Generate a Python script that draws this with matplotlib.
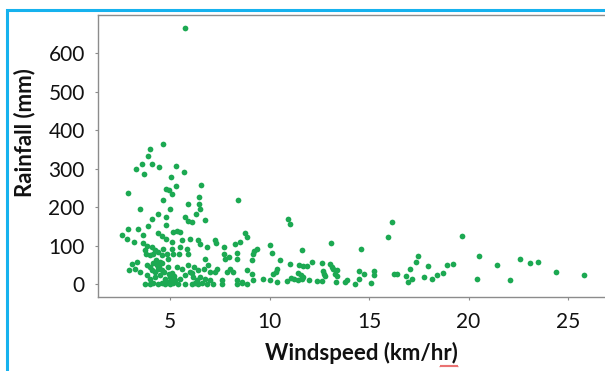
import numpy as np
import matplotlib
matplotlib.use('Agg')
import matplotlib.pyplot as plt
from matplotlib.lines import Line2D

windspeed = [
    5.75, 4.65, 4.0, 3.9, 3.6, 4.1, 4.45, 3.3, 3.7, 5.3, 5.7, 5.05, 5.3, 4.8, 4.95,
    5.1, 6.55, 2.9, 6.45, 8.4,
    3.49, 4.67, 5.0, 5.89, 6.46, 6.51, 4.41, 4.11, 4.8, 5.75, 5.92, 6.09, 6.29, 6.76,
    4.8, 3.88, 2.91, 3.41, 5.17, 5.37, 5.5,
    2.6, 2.82, 3.63, 4.41, 4.6, 4.8, 6.0, 6.42, 6.51, 5.59, 5.08, 3.21, 3.66, 3.83,
    4.08, 5.5, 6.84, 7.26, 7.31, 7.71, 8.27, 8.52, 8.77, 8.85, 9.39,
    3.74, 3.79, 3.99, 4.16, 4.25, 4.41, 4.58, 4.63, 4.83, 5.08, 5.17, 4.92, 5.47,
    5.84, 5.92, 6.76, 7.71, 7.76, 7.98, 8.35, 8.35, 9.19, 9.22, 9.1,
    3.07, 3.33, 2.96, 3.24, 3.49, 3.83, 3.99, 4.16, 4.33, 4.5, 4.08, 4.25, 4.41, 4.58,
    3.86, 3.99, 4.25, 4.5, 4.75, 5.0, 5.25, 5.5, 5.75, 6.0, 6.17, 6.34, 6.51, 6.76,
    7.01, 7.26, 7.35, 7.6, 7.85, 8.02, 8.18, 8.35, 8.6, 8.85, 9.1, 9.15, 9.69,
    3.74, 3.99, 4.16, 4.41, 4.58, 4.75, 4.83, 5.0, 5.17, 5.42, 5.75, 6.09, 6.26, 6.42,
    6.59, 6.84, 7.18, 7.6, 8.35, 8.6, 8.85,
    4.9, 5.05, 4.95, 5.1, 4.7, 5.2, 4.45, 4.6, 4.3, 4.9, 5.35, 5.6, 5.9, 6.2, 6.1,
    6.4, 6.7, 7.0, 6.9,
    10.03, 10.11, 10.53, 10.95, 11.04, 11.62, 13.08, 11.03, 11.5, 11.7, 11.9, 12.12,
    12.63, 13.05, 13.13, 13.21, 13.38, 10.16, 10.36, 10.33, 10.03, 10.4, 10.9, 11.07,
    11.24, 11.45, 11.57, 11.67, 11.45, 11.62, 12.0, 12.41, 12.63, 12.71, 12.74, 12.79,
    13.3, 13.38, 13.35,
    13.79, 13.91, 14.3, 14.5, 14.5, 14.58, 14.77, 15.08, 15.27, 15.27, 15.94, 16.14,
    16.26, 16.39, 16.86, 17.06, 16.98, 17.14, 17.36, 17.45, 17.76, 17.95, 18.15, 18.43,
    18.73, 18.94, 19.22, 19.66, 20.43, 20.53, 21.42, 22.09, 22.6, 23.11, 23.51, 24.38,
    25.79,
]
rainfall = [
    665, 364, 351, 332, 312, 312, 304, 298, 286, 306, 291, 278, 255, 247, 244,
    234, 257, 236, 226, 218,
    196, 218, 196, 209, 209, 195, 182, 169, 173, 175, 164, 160, 183, 166,
    153, 150, 144, 142, 136, 138, 136,
    127, 117, 127, 133, 124, 116, 116, 114, 105, 114, 110, 108, 107, 98,
    97, 97, 97, 114, 107, 97, 104, 110, 133, 123, 92,
    88, 79, 75, 79, 88, 84, 75, 90, 79, 92, 77, 66, 79,
    90, 79, 66, 79, 66, 71, 81, 66, 78, 86, 62,
    53, 58, 36, 40, 32, 49, 45, 55, 49, 58, 36, 32, 40, 36,
    23, 14, 19, 23, 14, 19, 10, 14, 23, 32, 17, 10, 19, 14,
    10, 32, 40, 10, 32, 40, 32, 10, 6, 36, 27, 10, 14,
    0, 0, 2, 0, 2, 0, 6, 0, 3, 0, 0, 0, 2, 0,
    3, 0, 0, 0, 0, 3, 0,
    5, 8, 25, 28, 30, 20, 45, 55, 62, 45, 45, 40, 50, 45, 28,
    35, 40, 30, 50,
    101, 81, 62, 170, 155, 88, 107, 51, 49, 47, 47, 58,
    55, 51, 45, 40, 36, 27, 40, 32, 10, 6, 8, 16,
    12, 29, 23, 19, 10, 12, 10, 8, 8, 34, 26, 21,
    26, 21, 6,
    6, 10, 0, 34, 14, 92, 26, 3, 34, 22, 121, 162,
    27, 27, 21, 39, 6, 14, 58, 73, 19, 47, 14, 22,
    29, 48, 51, 124, 14, 73, 49, 9, 66, 54, 56, 30,
    24,
]
x_ticks = [5, 10, 15, 20, 25]
y_ticks = [0, 100, 200, 300, 400, 500, 600]

plt.rcParams['font.family'] = ['Lato', 'DejaVu Sans']

W, H = 605, 371
fig = plt.figure(figsize=(W / 100, H / 100), dpi=100)
ax = fig.add_axes([98 / W, 1 - 297 / H, (W - 98) / W, (297 - 15) / H])

ax.scatter(windspeed, rainfall, s=17, color='#1ca952', linewidths=0, zorder=3)

ax.set_xlim(1.38, 26.86)
ax.set_ylim(-34, 700)
ax.set_xticks(x_ticks)
ax.set_yticks(y_ticks)

for side in ['left', 'bottom', 'top']:
    ax.spines[side].set_color('#8c8c8c')
    ax.spines[side].set_linewidth(1.0)
ax.spines['right'].set_visible(False)

ax.tick_params(axis='both', direction='out', length=2.5, width=0.8,
               color='#8c8c8c', labelsize=15, labelcolor='#111111')
ax.tick_params(axis='x', pad=8)
ax.tick_params(axis='y', pad=7)

# Подписи осей
fig.text(361 / W, 1 - 353 / H, 'Windspeed (km/hr)', ha='center', va='center',
         fontsize=16, fontweight='bold', color='#111111')
fig.text(25 / W, 1 - 133 / H, 'Rainfall (mm)', ha='center', va='center',
         rotation=90, fontsize=16, fontweight='bold', color='#111111')

# Красное подчёркивание проверки орфографии под "hr"
sq_x = np.linspace(440, 458, 19)
sq_y = 366 + 0.8 * np.where(np.arange(19) % 2 == 0, 1, -1)
fig.add_artist(Line2D(sq_x / W, 1 - sq_y / H, color='#e03030', linewidth=0.6))

# Синяя рамка слева и сверху
fig.add_artist(Line2D([7 / W, 7 / W, 1.0], [0.0, 1 - 10 / H, 1 - 10 / H],
                      color='#16b2ee', linewidth=2.2, solid_joinstyle='miter'))

fig.savefig('out.png', dpi=100)
